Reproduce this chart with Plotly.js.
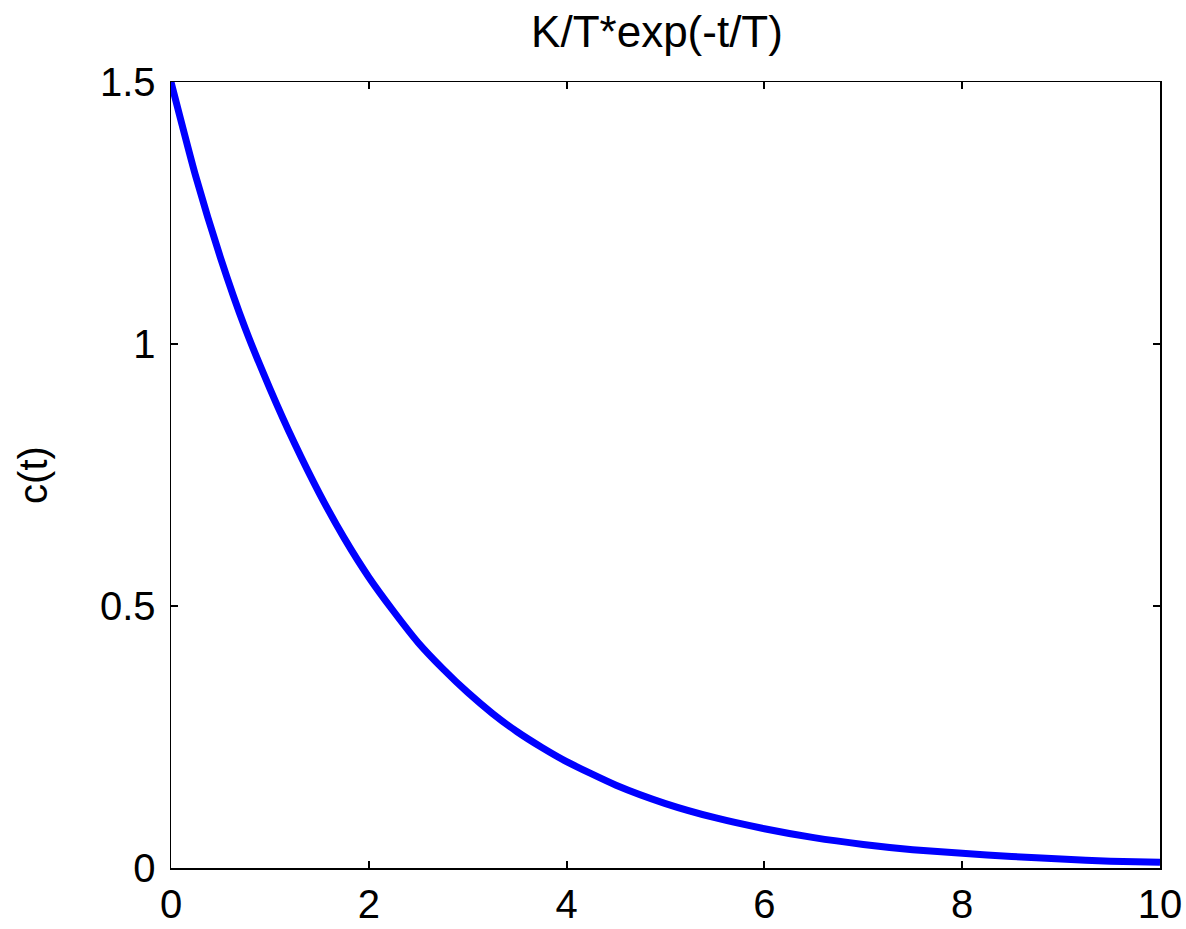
<!DOCTYPE html>
<html>
<head>
<meta charset="utf-8">
<script src="https://cdn.plot.ly/plotly-3.0.1.min.js"></script>
<style>html,body{margin:0;padding:0;background:#fff;}#chart{width:1186px;height:929px;}</style>
</head>
<body>
<div id="chart"></div>
<script>
// Values
var tValues = [0, 0.25, 0.5, 0.75, 1, 1.25, 1.5, 1.75, 2, 2.25, 2.5, 2.75, 3, 3.25, 3.5, 3.75, 4, 4.5, 5, 5.5, 6, 6.5, 7, 7.5, 8, 8.5, 9, 9.5, 10];
var cValues = [1.5, 1.32, 1.165, 1.03, 0.915, 0.81, 0.715, 0.63, 0.555, 0.49, 0.43, 0.38, 0.335, 0.295, 0.26, 0.23, 0.203, 0.158, 0.123, 0.096, 0.075, 0.058, 0.045, 0.035, 0.028, 0.022, 0.017, 0.013, 0.011];
var xTickVals = [0, 2, 4, 6, 8, 10];
var xTickText = ["0", "2", "4", "6", "8", "10"];
var yTickVals = [0, 0.5, 1, 1.5];
var yTickText = ["0", "0.5", "1", "1.5"];
var chartTitle = "K/T*exp(-t/T)";
var yTitle = "c(t)";

var fontFam = "Liberation Sans, Arial, sans-serif";

var trace = {
  x: tValues,
  y: cValues,
  type: "scatter",
  mode: "lines",
  line: {color: "#0000FF", width: 7, shape: "spline", smoothing: 0.6},
  hoverinfo: "skip"
};

var layout = {
  width: 1186,
  height: 929,
  paper_bgcolor: "#ffffff",
  plot_bgcolor: "#ffffff",
  margin: {l: 171, r: 26, t: 82, b: 61, pad: 0},
  showlegend: false,
  font: {family: fontFam, color: "#000000", size: 40},
  title: {
    text: chartTitle,
    font: {family: fontFam, size: 44, color: "#000000"},
    x: 657 / 1186,
    xref: "container",
    xanchor: "center",
    y: 1 - 32 / 929,
    yref: "container",
    yanchor: "middle"
  },
  xaxis: {
    range: [0, 10],
    tickvals: xTickVals,
    ticktext: xTickText,
    ticks: "inside",
    ticklen: 7,
    tickwidth: 2,
    tickcolor: "#000000",
    showline: true,
    linecolor: "#000000",
    linewidth: 1.5,
    mirror: "ticks",
    showgrid: false,
    zeroline: false,
    ticklabelstandoff: 0,
    tickfont: {family: fontFam, size: 40, color: "#000000"}
  },
  yaxis: {
    range: [0, 1.5],
    tickvals: yTickVals,
    ticktext: yTickText,
    ticks: "inside",
    ticklen: 7,
    tickwidth: 2,
    tickcolor: "#000000",
    showline: true,
    linecolor: "#000000",
    linewidth: 1.5,
    mirror: "ticks",
    showgrid: false,
    zeroline: false,
    ticklabelstandoff: 6,
    tickfont: {family: fontFam, size: 40, color: "#000000"},
    title: {
      text: yTitle,
      font: {family: fontFam, size: 40, color: "#000000"},
      standoff: 40
    }
  }
};

Plotly.newPlot("chart", [trace], layout, {displayModeBar: false, staticPlot: true});
</script>
</body>
</html>
